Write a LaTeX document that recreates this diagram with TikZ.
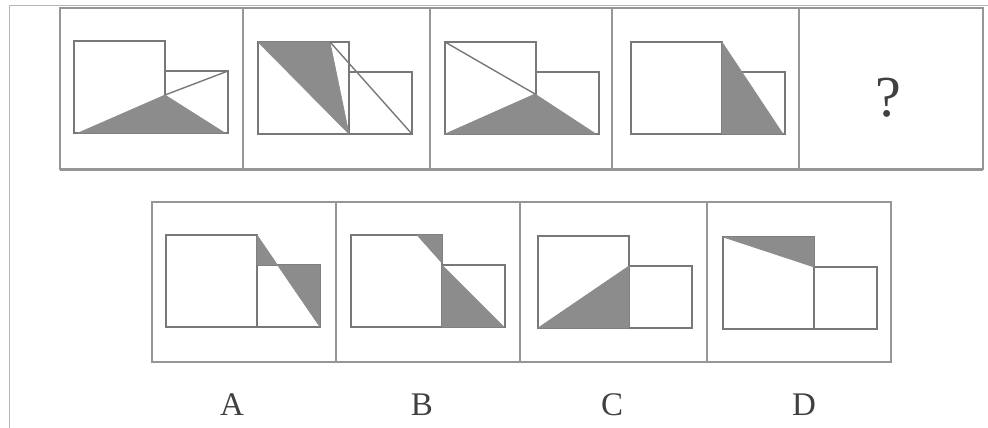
\documentclass[tikz,border=0pt]{standalone}
\usepackage{fontspec}
\setmainfont{Liberation Serif}
\definecolor{xian}{RGB}{120,120,120}
\definecolor{kuang}{RGB}{150,150,150}
\definecolor{yin}{RGB}{140,140,140}
\tikzset{
  tu/.style={draw=xian,line width=1.4pt},
  ying/.style={fill=yin,draw=yin,line width=0.6pt,line join=round},
  kuangxian/.style={draw=kuang,line width=1.6pt},
  xuanxiang/.style={font=\fontsize{33}{35}\selectfont,text=black!75}
}
\begin{document}
\begin{tikzpicture}[x=1pt,y=-1pt]
    \useasboundingbox (0,0) rectangle (988,428);
    % 外边线
    \draw[kuang!70,line width=1pt] (9,428) -- (9,6) -- (988,6);
    % 题干框
    \draw[kuangxian] (60,8) rectangle (983,169);
    \draw[kuang,line width=3pt] (60,169) -- (983,169);
    \foreach \x in {243,430,612,799}
    \draw[kuangxian] (\x,8) -- (\x,169);
    % 选项框
    \draw[kuangxian] (152,202) rectangle (891,362);
    \foreach \x in {336,520,707}
    \draw[kuangxian] (\x,202) -- (\x,362);
    % 大方框和小方框
    \foreach \px/\py in {74/41,258/42,445/42,631/42,166/235,351/235,538/236,723/237} {
        \draw[tu] (\px,\py) rectangle ++(91,92);
        \draw[tu] (\px+91,\py+30) rectangle (\px+154,\py+92);
      }
    % 阴影
    \begin{scope}[shift={(74,41)}]
      \fill[ying] (4,92) -- (91,54) -- (151,92) -- cycle;
      \draw[tu] (91,54) -- (154,30);
    \end{scope}
    \begin{scope}[shift={(258,42)}]
      \fill[ying] (0,0) -- (72,0) -- (91,92) -- cycle;
      \draw[tu] (72,0) -- (154,92);
    \end{scope}
    \begin{scope}[shift={(445,42)}]
      \fill[ying] (0,92) -- (90,52) -- (151,92) -- cycle;
      \draw[tu] (0,0) -- (90,52);
    \end{scope}
    \begin{scope}[shift={(631,42)}]
      \fill[ying] (91,0) -- (91,92) -- (152,92) -- cycle;
    \end{scope}
    % A
    \begin{scope}[shift={(166,235)}]
      \fill[ying] (91,0) -- (91,30) -- (111.5,30) -- cycle;
      \fill[ying] (111.5,30) -- (154,30) -- (154,92) -- cycle;
    \end{scope}
    % B
    \begin{scope}[shift={(351,235)}]
      \fill[ying] (66,0) -- (91,0) -- (91,28) -- cycle;
      \fill[ying] (91,30) -- (91,92) -- (153,92) -- cycle;
    \end{scope}
    % C
    \begin{scope}[shift={(538,236)}]
      \fill[ying] (0,92) -- (91,30) -- (91,92) -- cycle;
    \end{scope}
    % D
    \begin{scope}[shift={(723,237)}]
      \fill[ying] (0,0) -- (91,0) -- (91,30) -- cycle;
    \end{scope}
    % 问号
    \node[font=\fontsize{58}{60}\selectfont,text=black!75] (wen) at (888,98) {?};
    % 选项字母
    \foreach \x/\t in {232/A,422/B,612/C,804/D}
    \node[xuanxiang] (opt\t) at (\x,405) {\t};
  \end{tikzpicture}
\end{document}
